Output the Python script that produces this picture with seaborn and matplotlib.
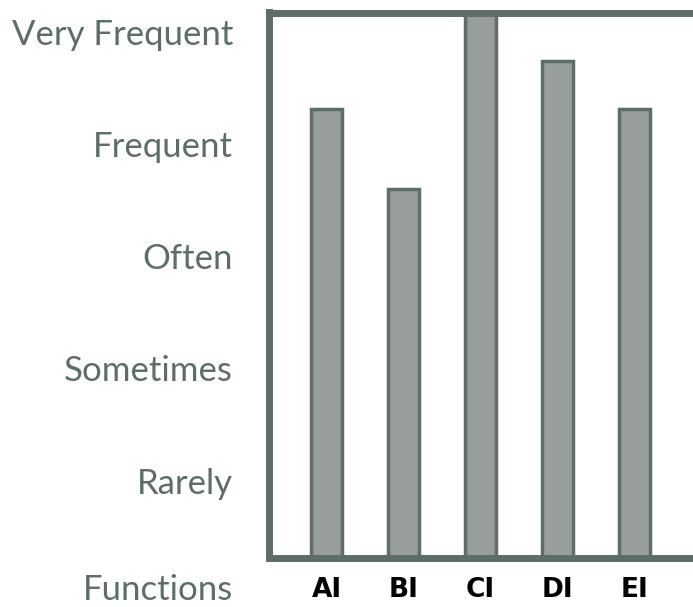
import numpy as np
import pandas as pd
import matplotlib
matplotlib.use('Agg')
import matplotlib.pyplot as plt
import matplotlib.transforms as mtransforms
import seaborn as sns

## data
functions = ['AI', 'BI', 'CI', 'DI', 'EI']
frequency = [4.31, 3.60, 5.40, 4.74, 4.31]
level_labels = ['Rarely', 'Sometimes', 'Often', 'Frequent', 'Very Frequent']
level_values = [1, 2, 3, 4, 5]

df = pd.DataFrame({'Function': functions, 'Frequency': frequency})

sns.set_theme(style='white')
plt.rcParams['font.family'] = ['Lato', 'DejaVu Sans']

dark = '#5d6e67'
fill = '#989f9a'
ypad = 26

fig = plt.figure(figsize=(6.93, 6.07), dpi=100)
ax = fig.add_axes([269/693, 1 - 557.5/607, 440/693, 545/607])

sns.barplot(data=df, x='Function', y='Frequency', color=fill, saturation=1,
            width=0.41, edgecolor=dark, linewidth=2.5, ax=ax)

ax.set_xlim(-0.75, 4.97)
ax.set_ylim(0.316, 5.17)
ax.set_yticks(level_values)
ax.set_yticklabels(level_labels, fontsize=25, color=dark)
ax.set_xticks(range(len(functions)))
ax.set_xticklabels(functions, fontsize=19, fontweight='bold', color='black',
                   family=['DejaVu Sans'])
ax.tick_params(axis='y', length=0, pad=ypad)
ax.tick_params(axis='x', length=0, pad=14)
ax.set_xlabel('')
ax.set_ylabel('')

# "Functions" sits where a zero level would be, right-aligned with the level labels
offset = mtransforms.ScaledTranslation(-ypad / 72, 0, fig.dpi_scale_trans)
ax.text(0, 0.05, 'Functions', transform=ax.get_yaxis_transform() + offset,
        ha='right', va='center_baseline', fontsize=25, color=dark, clip_on=False)

for side in ['left', 'top', 'bottom', 'right']:
    ax.spines[side].set_color(dark)
    ax.spines[side].set_linewidth(5)
    ax.spines[side].set_visible(True)

fig.savefig('out.png', dpi=100)
